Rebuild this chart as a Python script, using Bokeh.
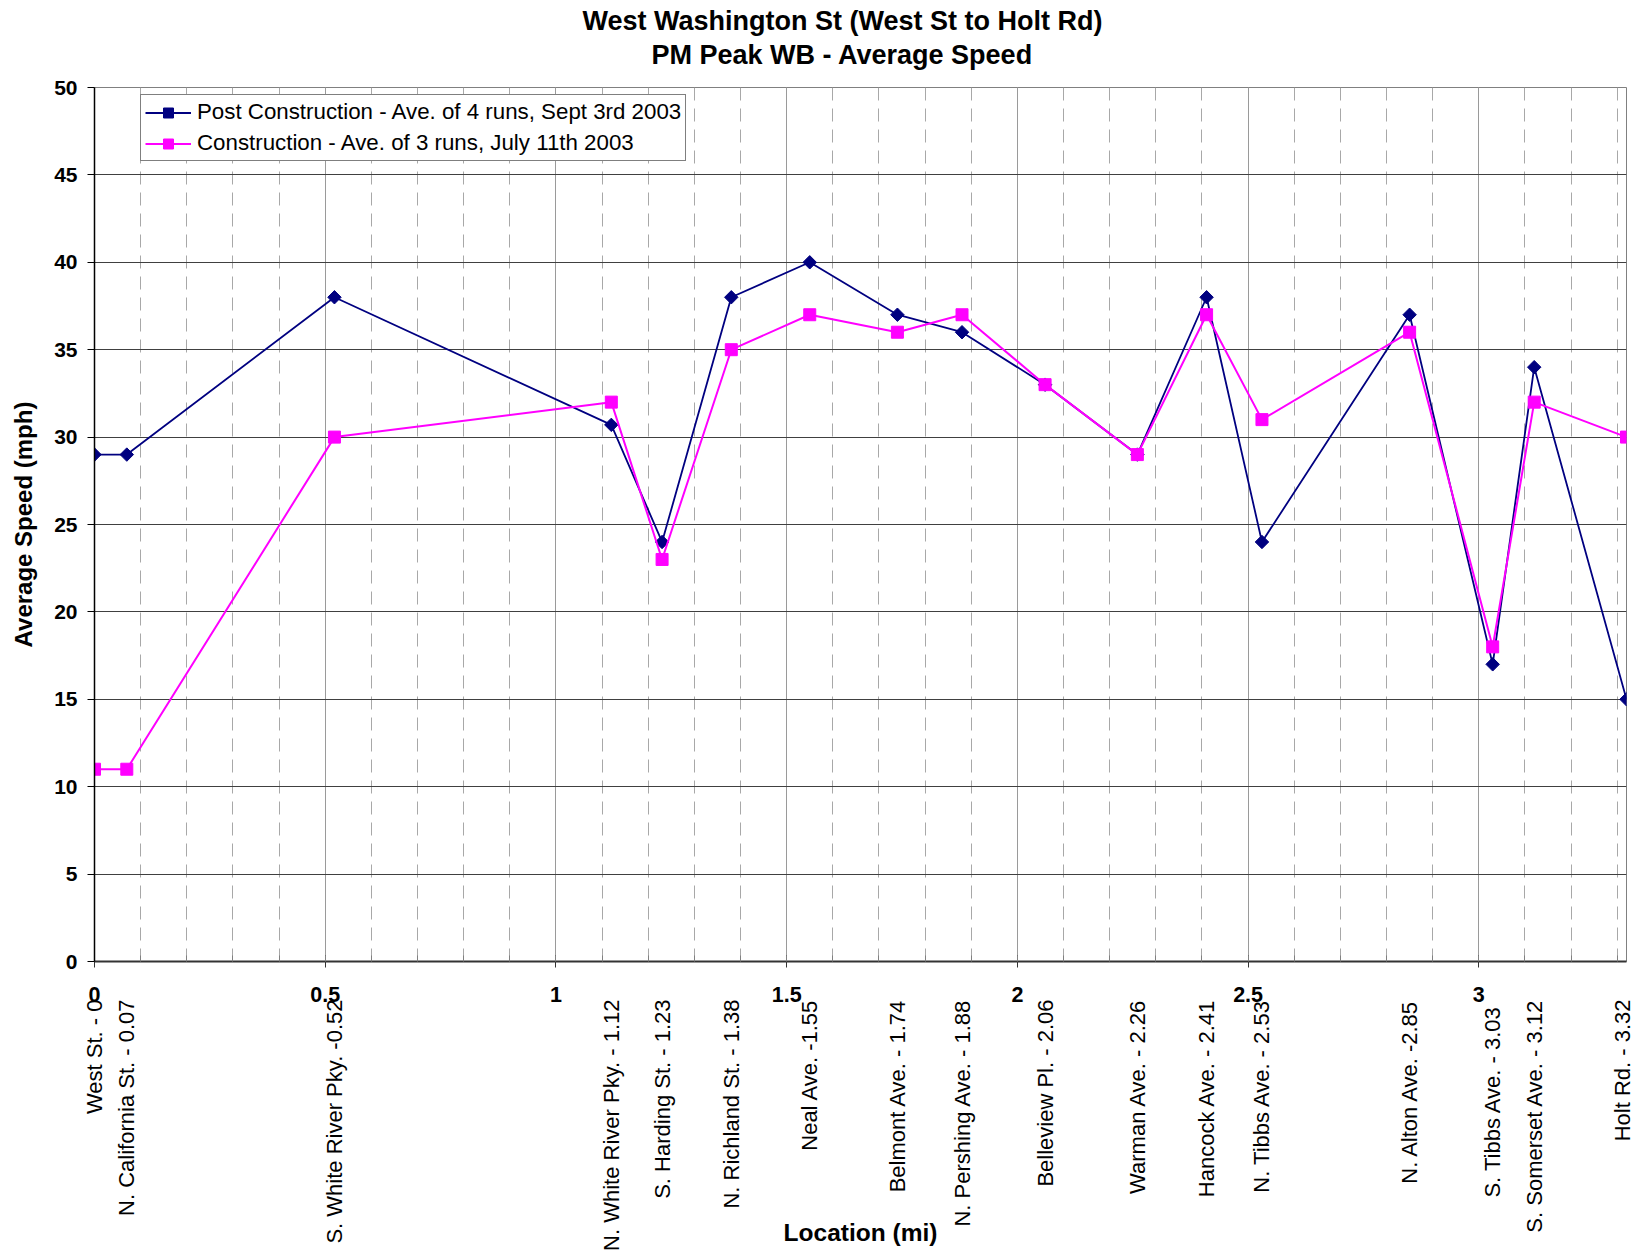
import numpy as np
from bokeh.plotting import figure
from bokeh.models import (ColumnDataSource, Range1d, SingleIntervalTicker, FixedTicker,
                          LinearAxis, AllLabels, Legend, LegendItem, Title)
from bokeh.embed import file_html
from bokeh.resources import INLINE

# ---- data ----
miles = [0, 0.07, 0.52, 1.12, 1.23, 1.38, 1.55, 1.74, 1.88, 2.06, 2.26, 2.41, 2.53, 2.85, 3.03, 3.12, 3.32]
stations = ["West St. - 0", "N. California St. - 0.07", "S. White River Pky. -0.52",
            "N. White River Pky. - 1.12", "S. Harding St. - 1.23", "N. Richland St. - 1.38",
            "Neal Ave. -1.55", "Belmont Ave. - 1.74", "N. Pershing Ave. - 1.88",
            "Belleview Pl. - 2.06", "Warman Ave. - 2.26", "Hancock Ave. - 2.41",
            "N. Tibbs Ave. - 2.53", "N. Alton Ave. -2.85", "S. Tibbs Ave.  - 3.03",
            "S. Somerset Ave. - 3.12", "Holt Rd. - 3.32"]
post_speed = [29, 29, 38, 30.7, 24, 38, 40, 37, 36, 33, 29, 38, 24, 37, 17, 34, 15]
constr_speed = [11, 11, 30, 32, 23, 35, 37, 36, 37, 33, 29, 37, 31, 36, 18, 32, 30]
post_label = "Post Construction - Ave. of 4 runs, Sept 3rd 2003"
constr_label = "Construction - Ave. of 3 runs, July 11th 2003"
title_1 = "West Washington St (West St to Holt Rd)"
title_2 = "PM Peak WB - Average Speed"

FONT = "Liberation Sans"

src = ColumnDataSource(dict(x=miles, post=post_speed, constr=constr_speed))

p = figure(width=1634, height=1256, output_backend="svg", toolbar_location=None,
           x_range=Range1d(0, 3.32), y_range=Range1d(0, 50),
           min_border_left=94, min_border_right=8, min_border_top=87, min_border_bottom=295,
           title=title_1)
p.background_fill_color = "white"
p.border_fill_color = "white"
p.outline_line_color = "#808080"
p.outline_line_width = 1

# spacer between second title line and the plot frame
p.add_layout(Title(text=" ", text_font_size="1px", standoff=14), "above")
p.add_layout(Title(text=title_2, align="left", offset=557,
                   text_font=FONT, text_font_size="27px", text_font_style="bold",
                   text_color="black", standoff=2), "above")
p.title.align = "left"
p.title.offset = 488
p.title.text_font = FONT
p.title.text_font_size = "27px"
p.title.text_font_style = "bold"
p.title.text_color = "black"
p.title.standoff = 2

# numeric x axis (closest to the frame)
xa = p.xaxis[0]
xa.ticker = SingleIntervalTicker(interval=0.5, num_minor_ticks=5)
xa.major_label_text_font = FONT
xa.major_label_text_font_size = "21.5px"
xa.major_label_text_font_style = "bold"
xa.major_label_text_color = "black"
xa.major_tick_in = 6
xa.major_tick_out = 6
xa.minor_tick_in = 6
xa.minor_tick_out = 0
xa.major_tick_line_color = "#333333"
xa.minor_tick_line_color = "#808080"
xa.axis_line_color = "#333333"
xa.axis_line_width = 2
xa.major_label_standoff = 19

# station-name axis (rotated labels) below it
sa = LinearAxis(ticker=FixedTicker(ticks=miles),
                major_label_overrides={m: s for m, s in zip(miles, stations)},
                major_label_policy=AllLabels(),
                major_label_orientation=np.pi / 2,
                major_label_standoff=-5,
                major_label_text_font=FONT, major_label_text_font_size="22px",
                major_label_text_color="black",
                axis_line_color=None, major_tick_line_color=None, minor_tick_line_color=None,
                major_tick_in=0, major_tick_out=0, minor_tick_in=0, minor_tick_out=0,
                axis_label="Location (mi)", axis_label_text_font=FONT,
                axis_label_text_font_size="24.5px", axis_label_text_font_style="bold",
                axis_label_text_color="black", axis_label_standoff=-35)
p.add_layout(sa, "below")

ya = p.yaxis[0]
ya.ticker = SingleIntervalTicker(interval=5, num_minor_ticks=0)
ya.major_label_text_font = FONT
ya.major_label_text_font_size = "21px"
ya.major_label_text_font_style = "bold"
ya.major_label_text_color = "black"
ya.major_tick_in = 0
ya.major_tick_out = 7
ya.minor_tick_line_color = None
ya.major_tick_line_color = "black"
ya.axis_line_color = "black"
ya.axis_line_width = 1.5
ya.major_label_standoff = 10
ya.axis_label = "Average Speed (mph)"
ya.axis_label_text_font = FONT
ya.axis_label_text_font_size = "24px"
ya.axis_label_text_font_style = "bold"
ya.axis_label_text_color = "black"
ya.axis_label_standoff = 14

# grids
p.ygrid.grid_line_color = "#404040"
p.ygrid.grid_line_width = 1
p.xgrid.grid_line_color = "#9a9a9a"
p.xgrid.grid_line_width = 1
p.xgrid.minor_grid_line_color = "#a8a8a8"
p.xgrid.minor_grid_line_dash = "13 8"
p.xgrid.minor_grid_line_width = 1

# series
l1 = p.line("x", "post", source=src, line_color="#000080", line_width=1.8)
s1 = p.scatter("x", "post", source=src, marker="square", size=9.5, angle=np.pi / 4,
               fill_color="#000080", line_color="#000080")
l2 = p.line("x", "constr", source=src, line_color="#FF00FF", line_width=2)
s2 = p.scatter("x", "constr", source=src, marker="square", size=12,
               fill_color="#FF00FF", line_color="#FF00FF")

legend = Legend(items=[LegendItem(label=post_label, renderers=[l1, s1]),
                       LegendItem(label=constr_label, renderers=[l2, s2])],
                location=(46, 800))
legend.label_text_font = FONT
legend.label_text_font_size = "22.3px"
legend.label_text_color = "black"
legend.border_line_color = "black"
legend.border_line_width = 1
legend.background_fill_color = "white"
legend.background_fill_alpha = 1
legend.glyph_width = 46
legend.glyph_height = 25
legend.label_height = 25
legend.label_standoff = 6
legend.padding = 4
legend.spacing = 5
legend.margin = 0
p.add_layout(legend, "center")

open("out.html", "w").write(file_html(p, INLINE))
